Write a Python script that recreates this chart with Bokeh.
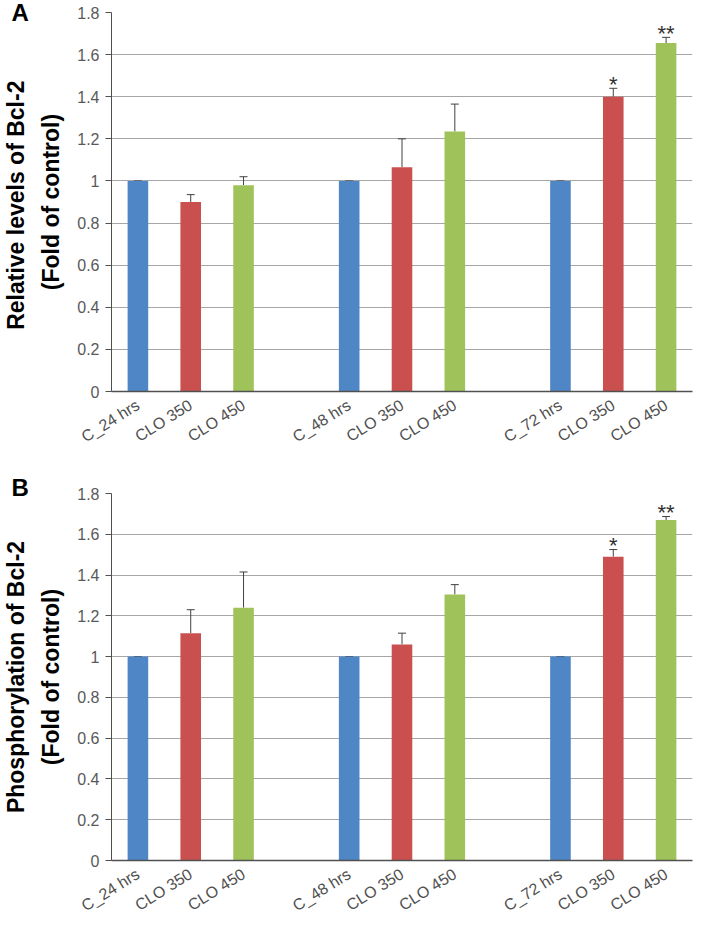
from bokeh.plotting import figure
from bokeh.layouts import column
from bokeh.models import (ColumnDataSource, Range1d, FixedTicker, NumeralTickFormatter,
                          Whisker, TeeHead, Title)
from bokeh.core.properties import value
from bokeh.embed import file_html
from bokeh.resources import INLINE

# ---------------- data ----------------
groups = ["24 hrs", "48 hrs", "72 hrs"]
treatments = ["Control", "CLO 350", "CLO 450"]
tick_labels = ["C_24 hrs", "CLO 350", "CLO 450",
               "C_48 hrs", "CLO 350", "CLO 450",
               "C_72 hrs", "CLO 350", "CLO 450"]
bcl2_levels = [1.0, 0.90, 0.98, 1.0, 1.065, 1.235, 1.0, 1.40, 1.655]
bcl2_levels_err = [0.0, 0.035, 0.04, 0.0, 0.135, 0.13, 0.0, 0.04, 0.027]
bcl2_levels_sig = ["", "", "", "", "", "", "", "*", "**"]
bcl2_phos = [1.0, 1.115, 1.24, 1.0, 1.06, 1.305, 1.0, 1.49, 1.67]
bcl2_phos_err = [0.0, 0.115, 0.175, 0.0, 0.055, 0.048, 0.0, 0.035, 0.017]
bcl2_phos_sig = ["", "", "", "", "", "", "", "*", "**"]
y_ticks = [0, 0.2, 0.4, 0.6, 0.8, 1.0, 1.2, 1.4, 1.6, 1.8]
treat_colors = ["#4F86C6", "#C9504F", "#9FC35A"]

FONT = "Liberation Sans"


def make_panel(letter, title, vals, errs, sig, height, top_border, bottom_border,
               letter_standoff):
    n_per = len(treatments)
    xs, cols = [], []
    for gi in range(len(groups)):
        for ti in range(n_per):
            xs.append(gi * (n_per + 1) + ti)
            cols.append(treat_colors[ti])
    src = ColumnDataSource(dict(
        x=xs, top=vals, upper=[v + e for v, e in zip(vals, errs)],
        color=cols, sig=sig,
        sig_y=[v + e + 0.02 for v, e in zip(vals, errs)],
    ))

    p = figure(width=693, height=height, output_backend="svg", toolbar_location=None,
               x_range=Range1d(-0.5, len(groups) * (n_per + 1) - 1 - 0.5),
               y_range=Range1d(0, 1.8),
               min_border_left=103, min_border_right=1,
               min_border_top=top_border, min_border_bottom=bottom_border)
    p.outline_line_color = None
    p.background_fill_color = "white"
    p.border_fill_color = "white"

    p.title = Title(text=letter, align="left", offset=-100, standoff=letter_standoff,
                    text_font=FONT, text_font_style="bold", text_font_size="24px",
                    text_color="black")

    p.vbar(x="x", top="top", width=0.39, bottom=0, fill_color="color",
           line_color=None, source=src)

    w = Whisker(base="x", upper="upper", lower="top", source=src,
                line_color="#404040", line_width=1,
                upper_head=TeeHead(size=8, line_color="#404040", line_width=1),
                lower_head=None)
    p.add_layout(w)

    p.text(x="x", y="sig_y", text="sig", source=src, text_align="center",
           text_baseline="alphabetic", text_font=value(FONT),
           text_font_size="22px", text_color="#303030")

    # axes
    p.xaxis.ticker = FixedTicker(ticks=xs)
    p.xaxis.major_label_overrides = {x: lab for x, lab in zip(xs, tick_labels)}
    p.xaxis.major_label_orientation = 0.56
    p.xaxis.major_tick_line_color = None
    p.xaxis.minor_tick_line_color = None
    p.xaxis.axis_line_color = "#505050"
    p.xaxis.axis_line_width = 1.5
    p.xaxis.major_label_standoff = 6
    p.xaxis.major_label_text_font = FONT
    p.xaxis.major_label_text_font_size = "16px"
    p.xaxis.major_label_text_color = "#505050"

    p.yaxis.ticker = FixedTicker(ticks=y_ticks)
    p.yaxis.formatter = NumeralTickFormatter(format="0.[0]")
    p.yaxis.major_tick_out = 6
    p.yaxis.major_tick_in = 0
    p.yaxis.minor_tick_line_color = None
    p.yaxis.major_tick_line_color = "#505050"
    p.yaxis.axis_line_color = "#505050"
    p.yaxis.major_label_standoff = 6
    p.yaxis.major_label_text_font = FONT
    p.yaxis.major_label_text_font_size = "16px"
    p.yaxis.major_label_text_color = "#595959"
    p.yaxis.axis_label = title
    p.yaxis.axis_label_text_font = FONT
    p.yaxis.axis_label_text_font_style = "bold"
    p.yaxis.axis_label_text_font_size = "23px"
    p.yaxis.axis_label_text_line_height = 1.35
    p.yaxis.axis_label_text_color = "black"
    p.yaxis.axis_label_standoff = 10

    p.xgrid.grid_line_color = None
    p.ygrid.grid_line_color = "#A6A6A6"
    p.ygrid.grid_line_width = 1
    return p


pA = make_panel("A", "Relative levels of  Bcl-2\n(Fold of control)",
                bcl2_levels, bcl2_levels_err, bcl2_levels_sig, 465, 12, 74, -26)
pB = make_panel("B", "Phosphorylation of Bcl-2\n(Fold of control)",
                bcl2_phos, bcl2_phos_err, bcl2_phos_sig, 459, 28, 50, -15)

layout = column(pA, pB, spacing=0)
open("out.html", "w").write(file_html(layout, INLINE))
